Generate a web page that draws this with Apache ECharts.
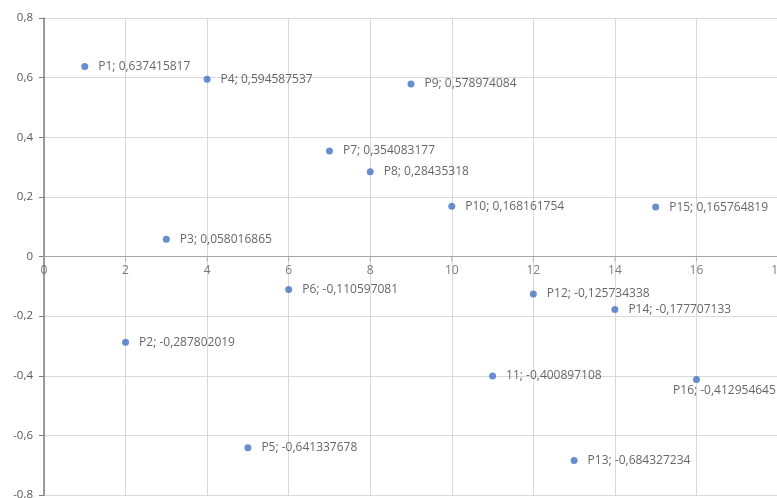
<!DOCTYPE html>
<html><head><meta charset="utf-8">
<script src="https://cdn.jsdelivr.net/npm/echarts@6/dist/echarts.min.js"></script>
<style>html,body{margin:0;padding:0;background:#fff}#c{width:777px;height:498px}</style>
</head><body><div id="c"></div>
<script>
const names = ['P1','P2','P3','P4','P5','P6','P7','P8','P9','P10','11','P12','P13','P14','P15','P16'];
const xs = [1,2,3,4,5,6,7,8,9,10,11,12,13,14,15,16];
const ys = [0.637415817,-0.287802019,0.058016865,0.594587537,-0.641337678,-0.110597081,0.354083177,0.28435318,0.578974084,0.168161754,-0.400897108,-0.125734338,-0.684327234,-0.177707133,0.165764819,-0.412954645];
const xTicks = [0,2,4,6,8,10,12,14,16,18];

const fmt = v => String(v).replace('.', ',');
const data = names.map((n, i) => {
  const d = {name: n, value: [xs[i], ys[i]]};
  if (n === 'P16') d.label = {position: 'bottom', distance: 1, offset: [28, 0]};
  return d;
});
const chart = echarts.init(document.getElementById('c'));
chart.setOption({
  animation: false,
  textStyle: {fontFamily: 'Open Sans'},
  grid: {left: 44, top: 18, width: 734, height: 477, containLabel: false, outerBoundsMode: 'none'},
  xAxis: {
    type: 'value', min: 0, max: 18, interval: 2,
    axisLine: {show: true, onZero: true, lineStyle: {color: '#a6a6a6', width: 1}},
    axisTick: {show: false},
    axisLabel: {show: false},
    splitLine: {show: true, lineStyle: {color: '#d9d9d9', width: 1}}
  },
  yAxis: {
    type: 'value', min: -0.8, max: 0.8, interval: 0.2,
    axisLine: {show: true, onZero: false, lineStyle: {color: '#7f7f7f', width: 1.5}},
    axisTick: {show: true, length: 5, lineStyle: {color: '#7f7f7f'}},
    axisLabel: {color: '#595959', fontSize: 11.5, margin: 11, formatter: fmt},
    splitLine: {show: true, lineStyle: {color: '#d9d9d9', width: 1}}
  },
  series: [{
    type: 'scatter',
    symbol: 'circle', symbolSize: 7,
    itemStyle: {color: '#4472c4'},
    data: data,
    z: 3,
    label: {
      show: true, position: 'right', distance: 10,
      color: '#404040', fontSize: 12, fontFamily: 'Open Sans',
      formatter: p => p.name + '; ' + fmt(p.value[1])
    }
  }, {
    type: 'scatter',
    silent: true,
    symbol: 'rect', symbolSize: [1, 5], symbolOffset: [0, '50%'],
    itemStyle: {color: '#a6a6a6'},
    data: xTicks.map(x => [x, 0]),
    z: 2,
    label: {
      show: true, position: 'bottom', distance: 3,
      color: '#595959', fontSize: 12, fontFamily: 'Open Sans',
      formatter: p => fmt(p.value[0])
    }
  }]
});
</script></body></html>
